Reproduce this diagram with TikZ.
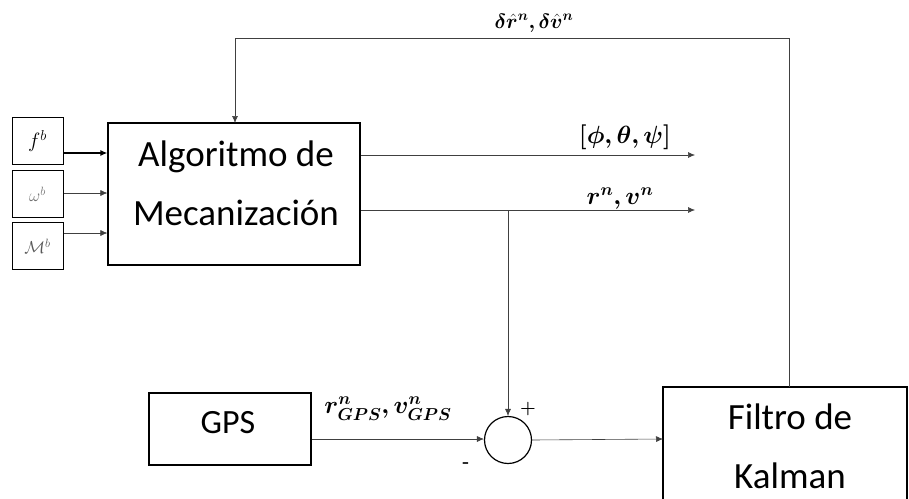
\documentclass[tikz,border=0pt]{standalone}
\usepackage{amsmath,bm}
\usepackage{fontspec}
\newfontfamily\calib{Carlito}
\usetikzlibrary{arrows.meta}
\begin{document}
\begin{tikzpicture}[x=1pt,y=-1pt,
  blk/.style={draw,line width=1.2pt},
  sm/.style={draw,line width=1pt,minimum width=51pt,minimum height=47pt,inner sep=0pt},
  conn/.style={draw=black!75,line width=0.6pt,-{Latex[length=7pt,width=6pt]}},
  big/.style={font=\calib\fontsize{37}{40}\selectfont,inner sep=0pt},
  lbl/.style={inner sep=0pt}]
\useasboundingbox (0,0) rectangle (909,498);
\clip (0,0) rectangle (909,498);
% small input boxes
\node[sm,font=\fontsize{20}{22}\selectfont] (fb) at (37.5,141) {$f^{b}$};
\node[sm,font=\fontsize{18}{22}\selectfont,text=black!55] (wb) at (37.5,194) {$\omega^{b}$};
\node[sm,font=\fontsize{18}{22}\selectfont,text=black!65] (mb) at (37.5,246) {$\mathcal{M}^{b}$};
% main block
\node[blk,minimum width=252pt,minimum height=142pt] (mec) at (234,194) {};
\node[big] (t1) at (236,157) {Algoritmo de};
\node[big] (t2) at (236,213) {Mecanización};
% arrows in
\draw[conn,line width=1.4pt,draw=black] (fb.east|-0,153) -- (mec.west|-0,153);
\draw[conn] (wb.east|-0,193) -- (mec.west|-0,193);
\draw[conn] (mb.east|-0,233) -- (mec.west|-0,233);
% outputs
\coordinate (o1) at (695,155);
\coordinate (o2) at (695,210);
\draw[conn] (mec.east|-o1) -- (o1);
\draw[conn] (mec.east|-o2) -- (o2);
\node[lbl,font=\fontsize{28}{30}\selectfont] (l1) at (625,137) {$\bm{[\phi,\theta,\psi]}$};
\node[lbl,font=\fontsize{27}{30}\selectfont] (l2) at (620,199) {$\bm{r^{n},v^{n}}$};
% GPS
\node[blk,minimum width=162pt,minimum height=72pt] (gps) at (230,429) {};
\node[font=\calib\fontsize{34}{36}\selectfont,inner sep=0pt] (gt) at (228,423) {GPS};
% summing junction
\node[draw,circle,line width=1.2pt,minimum size=47pt,inner sep=0pt] (sum) at (508,440) {};
\node[inner sep=0pt,font=\fontsize{18}{20}\selectfont\bfseries] (plus) at (528,409) {+};
\node[inner sep=0pt,font=\fontsize{18}{20}\selectfont\bfseries] (minus) at (466,465) {-};
\coordinate (tap) at (508,210);
\draw[conn] (tap) -- (sum.north);
\draw[conn] (gps.east|-0,439) -- (sum.west|-0,439);
\node[lbl,font=\fontsize{24}{26}\selectfont] (l3) at (388,409) {$\bm{r^{n}_{GPS},v^{n}_{GPS}}$};
% Kalman
\draw[blk] (907,520) -- (907,387) -- (663,387) -- (663,520);
\coordinate (kalw) at (663,439);
\coordinate (kaltop) at (789,387);
\node[big] (k1) at (790,417) {Filtro de};
\node[big] (k2) at (790,476) {Kalman};
\draw[conn] (sum.east) -- (kalw);
% feedback
\coordinate (fbtop) at (235,123);
\draw[conn] (kaltop) -- (789,38) -- (235,38) -- (fbtop);
\node[lbl,font=\fontsize{21}{24}\selectfont] (l4) at (534,23) {$\bm{\delta\hat{r}^{n},\delta\hat{v}^{n}}$};
\end{tikzpicture}
\end{document}
